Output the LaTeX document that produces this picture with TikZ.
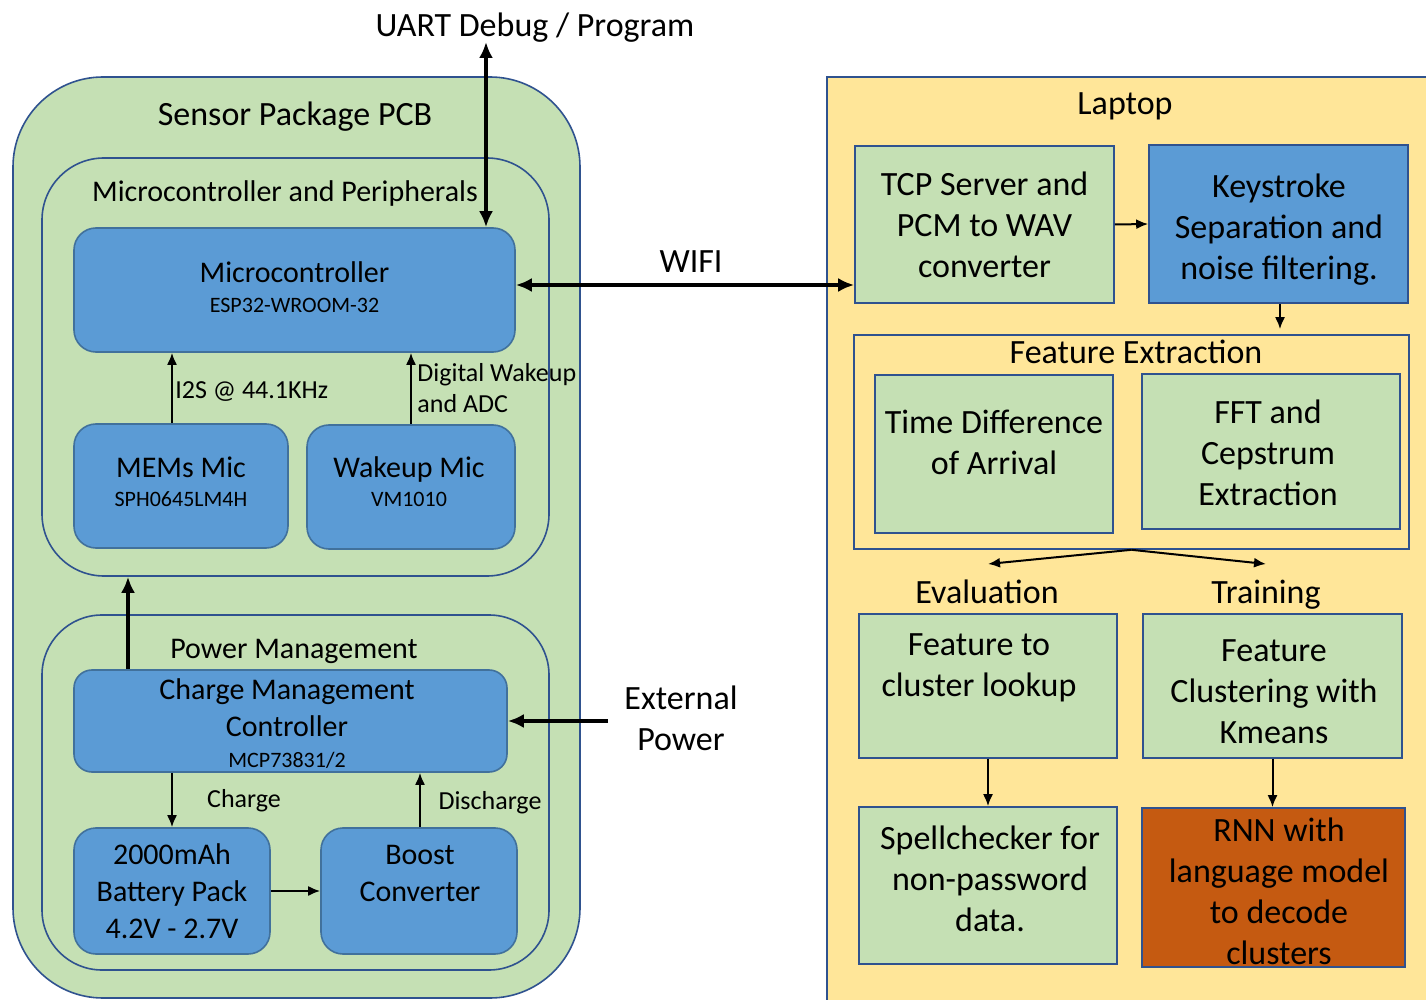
\documentclass[tikz,border=0pt]{standalone}
\usepackage{fontspec}
\setmainfont{Carlito}
\usetikzlibrary{arrows.meta,calc}
\definecolor{cgreen}{HTML}{C5E0B4}
\definecolor{cblue}{HTML}{5B9BD5}
\definecolor{cbord}{HTML}{2F528F}
\definecolor{cbbord}{HTML}{41719C}
\definecolor{cyellow}{HTML}{FFE699}
\definecolor{corange}{HTML}{C55A11}
\begin{document}
\begin{tikzpicture}[x=0.5pt,y=-0.5pt,
  wh/.style 2 args={minimum width=#1*0.5pt,minimum height=#2*0.5pt},
  fbig/.style={font=\fontsize{17}{20.5}\selectfont},
  fmid/.style={font=\fontsize{15}{18.5}\selectfont},
  fsmall/.style={font=\fontsize{13}{15.6}\selectfont},
  container/.style={draw=cbord,line width=0.8pt,fill=cgreen,inner sep=0pt},
  bluebox/.style={draw=cbbord,line width=0.8pt,fill=cblue,align=center,fmid,inner sep=2pt},
  lapbox/.style={draw=cbord,line width=0.8pt,fill=cgreen,align=center,fbig,inner sep=2pt},
  txt/.style={align=center,inner sep=0pt},
  one/.style={inner sep=0pt,text depth=0pt},
  thinarrow/.style={-{Latex[length=6pt,width=5pt]},line width=1pt},
  thickarrow/.style={-{Latex[length=8pt,width=7pt]},line width=2pt},
  boththick/.style={{Latex[length=8pt,width=7pt]}-{Latex[length=8pt,width=7pt]},line width=2pt},
]
\useasboundingbox (0,0) rectangle (1426,1000);
\fill[white] (0,0) rectangle (1426,1000);

% ---------------- Sensor package ----------------
\node[container,rounded corners=45pt,wh={567}{921}] (sensor) at (296.5,537.5) {};
\node[one,fbig] (sensortitle) at (295,114) {Sensor Package PCB};
\node[container,rounded corners=31pt,wh={507}{418}] (periph) at (295.5,367) {};
\node[one,fmid] (periphtitle) at (285,191) {Microcontroller and Peripherals};
\node[bluebox,rounded corners=11pt,wh={441}{124}] (mcu) at (294.5,290) {};
\node[txt,fmid] (mcutxt) at (294.5,287)
  {Microcontroller\\[-3.5pt]{\fontsize{11}{13}\selectfont ESP32-WROOM-32}};
\node[bluebox,rounded corners=11pt,wh={214}{124}] (mems) at (181,486) {};
\node[txt,fmid] (memstxt) at (181,482)
  {MEMs Mic\\[-4pt]{\fontsize{11}{13}\selectfont SPH0645LM4H}};
\node[bluebox,rounded corners=11pt,wh={208}{124}] (wake) at (411,487) {};
\node[txt,fmid] (waketxt) at (409,482)
  {Wakeup Mic\\[-4pt]{\fontsize{11}{13}\selectfont VM1010}};

\node[container,rounded corners=30pt,wh={507}{355}] (power) at (295.5,792.5) {};
\node[one,fmid] (powertitle) at (294,649) {Power Management};
\node[bluebox,rounded corners=9pt,wh={433}{102}] (cmc) at (290.5,721) {};
\node[txt,fmid] (cmctxt) at (287,724)
  {Charge Management\\Controller\\[-3pt]{\fontsize{11}{13}\selectfont MCP73831/2}};
\node[bluebox,rounded corners=11pt,wh={196}{126}] (batt) at (172,891)
  {2000mAh\\Battery Pack\\4.2V - 2.7V};
\node[bluebox,rounded corners=11pt,wh={196}{126}] (boost) at (419,891) {};
\node[txt,fmid] (boosttxt) at (420,873) {Boost\\Converter};

% arrows in sensor package
\draw[thinarrow] ([xshift=-4.5pt]mems.north) -- ([xshift=-4.5pt]mems.north |- mcu.south);
\node[one,fsmall,anchor=west] (i2s) at (175,390) {I2S @ 44.1KHz};
\draw[thinarrow] (wake.north) -- (wake.north |- mcu.south);
\node[txt,fsmall,anchor=west,align=left] (dig) at (417,388) {Digital Wakeup\\and ADC};
\draw[thinarrow] (batt.north |- cmc.south) -- (batt.north);
\node[one,fsmall] (chg) at (244,798) {Charge};
\draw[thinarrow] ([xshift=0.5pt]boost.north) -- ([xshift=0.5pt]boost.north |- cmc.south);
\node[one,fsmall] (dis) at (490,800) {Discharge};
\draw[thinarrow] (batt.east) -- (boost.west);
\coordinate (pwx) at (128,0);
\draw[thickarrow,line width=2.4pt] (cmc.north -| pwx) -- (periph.south -| pwx);
\coordinate (ext) at (608,721);
\draw[thickarrow,line width=2.4pt] (ext) -- (cmc.east);
\node[txt,fbig] (exttxt) at (681,718) {External\\Power};

% UART
\coordinate (uarttop) at (486,42);
\draw[boththick] (uarttop) -- (uarttop |- mcu.north);
\node[one,fbig] (uart) at (535,25) {UART Debug / Program};

% ---------------- Laptop ----------------
\node[draw=cbord,line width=0.8pt,fill=cyellow,wh={613}{933},inner sep=0pt] (laptop) at (1133.5,543.5) {};
\node[one,fbig] (laptoptitle) at (1125,104) {Laptop};
\node[lapbox,wh={259}{157}] (tcp) at (984.5,224.5) {TCP Server and\\PCM to WAV\\converter};
\node[lapbox,fill=cblue,wh={259}{158}] (keys) at (1278.5,224) {};
\node[txt,fbig] (keystxt) at (1279,230) {Keystroke\\Separation and\\noise filtering.};
\node[draw=cbord,line width=0.8pt,fill=cyellow,wh={555}{214},inner sep=0pt] (fe) at (1131.5,442) {};
\node[one,fbig] (fetitle) at (1136,352) {Feature Extraction};
\node[lapbox,wh={238}{158}] (tdoa) at (994,454) {};
\node[txt,fbig] (tdoatxt) at (994,442) {Time Difference\\of Arrival};
\node[lapbox,wh={258}{155}] (fft) at (1271,451.5) {};
\node[txt,fbig] (ffttxt) at (1268,453) {FFT and\\Cepstrum\\Extraction};
\node[one,fbig] (evaltxt) at (987,592) {Evaluation};
\node[one,fbig] (traintxt) at (1266,592) {Training};
\node[lapbox,wh={258}{144}] (lookup) at (988,686) {};
\node[txt,fbig] (lookuptxt) at (979,668) {Feature to\\cluster lookup};
\node[lapbox,wh={259}{144}] (clus) at (1272.5,686) {};
\node[txt,fbig] (clustxt) at (1274,692) {Feature\\Clustering with\\Kmeans};
\node[lapbox,wh={258}{157}] (spell) at (988,885.5) {};
\node[txt,fbig] (spelltxt) at (990,879) {Spellchecker for\\non-password\\data.};
\node[lapbox,fill=corange,wh={263}{159}] (rnn) at (1273.5,887.5) {};
\node[txt,fbig] (rnntxt) at (1279,891) {RNN with\\language model\\to decode\\clusters};

\draw[thinarrow] (tcp.east) -- (keys.west);
\draw[thinarrow] ([xshift=0.75pt]keys.south) -- ([xshift=0.75pt,yshift=2.5pt]keys.south |- fe.north);
\coordinate (evalpt) at (988,564);
\coordinate (trainpt) at (1266,564);
\draw[thinarrow] (fe.south) -- (evalpt);
\draw[thinarrow] (fe.south) -- (trainpt);
\draw[thinarrow] (lookup.south) -- (spell.north);
\draw[thinarrow] (clus.south) -- (clus.south |- rnn.north);

% WIFI
\draw[boththick] ([yshift=2.5pt]mcu.east) -- ([yshift=2.5pt]mcu.east -| tcp.west);
\node[one,fbig] (wifi) at (691,262) {WIFI};
\end{tikzpicture}
\end{document}
